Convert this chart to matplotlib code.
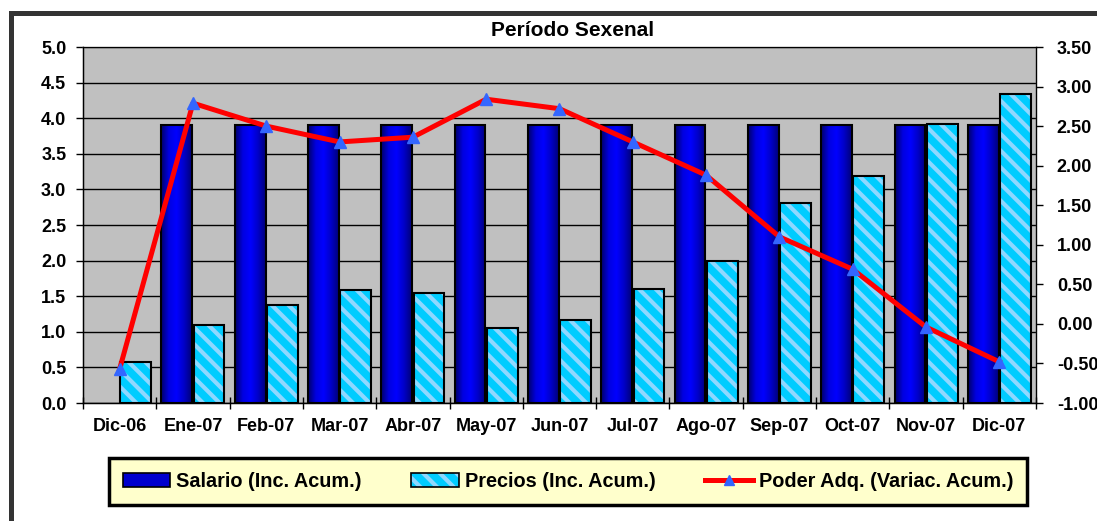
import matplotlib
matplotlib.use("Agg")
import matplotlib.pyplot as plt
import numpy as np
from matplotlib.patches import Rectangle, Patch
from matplotlib.lines import Line2D
from matplotlib.colors import LinearSegmentedColormap

plt.rcParams['font.family'] = ['Liberation Sans', 'DejaVu Sans']
plt.rcParams['font.weight'] = 'bold'
plt.rcParams['hatch.linewidth'] = 3.0

categories = ["Dic-06", "Ene-07", "Feb-07", "Mar-07", "Abr-07", "May-07", "Jun-07",
              "Jul-07", "Ago-07", "Sep-07", "Oct-07", "Nov-07", "Dic-07"]
salario = [0.0, 3.9, 3.9, 3.9, 3.9, 3.9, 3.9, 3.9, 3.9, 3.9, 3.9, 3.9, 3.9]
precios = [0.57, 1.10, 1.38, 1.59, 1.55, 1.05, 1.17, 1.60, 2.00, 2.81, 3.19, 3.92, 4.34]
poder = [-0.57, 2.79, 2.50, 2.30, 2.36, 2.84, 2.72, 2.30, 1.88, 1.10, 0.69, -0.04, -0.48]
left_ticks = [0.0, 0.5, 1.0, 1.5, 2.0, 2.5, 3.0, 3.5, 4.0, 4.5, 5.0]
right_ticks = [-1.0, -0.5, 0.0, 0.5, 1.0, 1.5, 2.0, 2.5, 3.0, 3.5]

W, H = 1097, 521
fig = plt.figure(figsize=(W / 100, H / 100), dpi=100)
fig.patch.set_facecolor('white')

# outer frame (cropped at right/bottom)
fig.add_artist(Rectangle((10.5 / W, -0.1), 1.2, 1 - 12.5 / H + 0.1, transform=fig.transFigure,
                         fill=False, edgecolor='#333333', linewidth=3.6))

ax = fig.add_axes([83 / W, 1 - 403 / H, (1036 - 83) / W, (403 - 47) / H])
ax.set_facecolor('#C0C0C0')
n = len(categories)
x = np.arange(n)
bw = 0.42
gap = 0.02

ax.set_xlim(-0.5, n - 0.5)
ax.set_ylim(0, 5)
ax.set_yticks(left_ticks)
ax.set_yticklabels([f"{v:.1f}" for v in left_ticks], fontsize=13, fontweight='bold')
ax.yaxis.grid(True, color='black', linewidth=1.0)
ax.set_axisbelow(True)

grad = LinearSegmentedColormap.from_list('g', ['#00006A', '#0000E0', '#0000FF', '#0000C8', '#00007A'])
gimg = np.linspace(0, 1, 64).reshape(1, -1)

for xi, s in zip(x, salario):
    if s <= 0:
        continue
    x0 = xi - bw - gap / 2
    r = Rectangle((x0, 0), bw, s, facecolor='none', edgecolor='black', linewidth=1.5, zorder=3)
    im = ax.imshow(gimg, cmap=grad, aspect='auto', extent=(x0, x0 + bw, 0, s), zorder=2)
    ax.add_patch(r)
    im.set_clip_path(r)

for xi, p in zip(x, precios):
    x0 = xi + gap / 2
    ax.add_patch(Rectangle((x0, 0), bw, p, facecolor='#00CCFF', edgecolor='#8FD8FF',
                           hatch='\\\\', linewidth=0, zorder=2))
    ax.add_patch(Rectangle((x0, 0), bw, p, facecolor='none', edgecolor='black', linewidth=1.5, zorder=3))

ax.set_xlim(-0.5, n - 0.5)
ax.set_ylim(0, 5)

# x ticks at boundaries, labels at centers
ax.set_xticks(np.arange(n + 1) - 0.5)
ax.set_xticklabels([])
ax.tick_params(axis='x', which='major', length=8, direction='inout', width=1)
ax.set_xticks(x, minor=True)
ax.set_xticklabels(categories, minor=True, fontsize=13, fontweight='bold')
ax.tick_params(axis='x', which='minor', length=0, pad=11)
ax.tick_params(axis='y', length=5, width=1, direction='out', pad=7)
for sp in ax.spines.values():
    sp.set_color('#404040')
    sp.set_linewidth(1.0)
ax.spines['top'].set_color('#808080')
ax.spines['left'].set_color('black')
ax.spines['bottom'].set_color('black')

ax2 = ax.twinx()
ax2.set_ylim(-1.0, 3.5)
ax2.set_yticks(right_ticks)
ax2.set_yticklabels([f"{v:.2f}" for v in right_ticks], fontsize=13, fontweight='bold')
ax2.tick_params(axis='y', length=5, width=1, direction='out', pad=10)
ax2.spines['right'].set_color('black')
ax2.plot(x, poder, color='#FF0000', linewidth=3.6, marker='^', markersize=8.5,
         markerfacecolor='#3366FF', markeredgecolor='#3366FF', zorder=5)

fig.text(573 / W, 1 - 30 / H, "Período Sexenal", ha='center', va='center', fontsize=15, fontweight='bold')

h_sal = (Patch(facecolor='#0000CC', edgecolor='none'),
         Patch(facecolor='none', edgecolor='black', linewidth=1.2))
h_pre = (Patch(facecolor='#00CCFF', edgecolor='#8FD8FF', hatch='\\\\', linewidth=0),
         Patch(facecolor='none', edgecolor='black', linewidth=1.2))
h_pod = Line2D([0], [0], color='#FF0000', linewidth=3.6, marker='^', markersize=7,
               markerfacecolor='#3366FF', markeredgecolor='#3366FF')
handles = [h_sal, h_pre, h_pod]
labels = ["Salario (Inc. Acum.)", "Precios (Inc. Acum.)", "Poder Adq. (Variac. Acum.)"]
leg = fig.legend(handles, labels, ncol=3, loc='center', bbox_to_anchor=(568 / W, 1 - 481.5 / H),
                 fontsize=14.3, frameon=True, fancybox=False, edgecolor='black',
                 facecolor='#FFFFCC', framealpha=1, handlelength=2.4, handleheight=0.65,
                 handletextpad=0.3, columnspacing=2.5, borderpad=0.7, borderaxespad=0)
leg.get_frame().set_linewidth(2.5)
for t in leg.get_texts():
    t.set_fontweight('bold')

fig.savefig('out.png', dpi=100)
